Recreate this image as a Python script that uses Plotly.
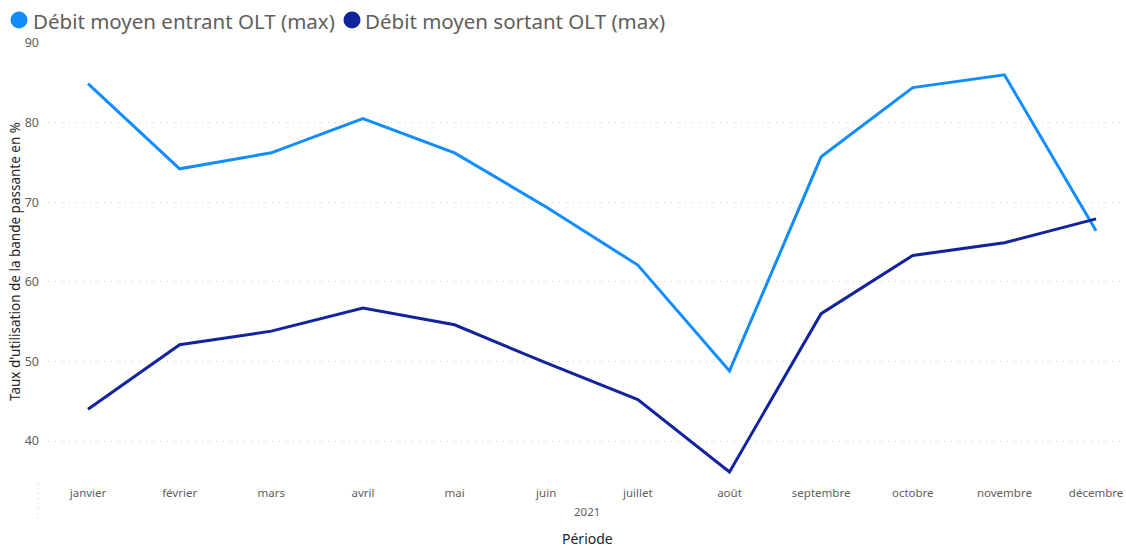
import plotly.graph_objects as go

months = ["janvier", "février", "mars", "avril", "mai", "juin", "juillet",
          "août", "septembre", "octobre", "novembre", "décembre"]
entrant = [84.9, 74.2, 76.2, 80.5, 76.2, 69.4, 62.1, 48.8, 75.7, 84.4, 86.0, 66.4]
sortant = [44.0, 52.1, 53.8, 56.7, 54.6, 49.8, 45.2, 36.1, 56.0, 63.3, 64.9, 67.9]
name_in = "Débit moyen entrant OLT (max)"
name_out = "Débit moyen sortant OLT (max)"
c_in = "#118DFF"
c_out = "#12239E"
yticks = [40, 50, 60, 70, 80, 90]

FONT = "Noto Sans"
xs = list(range(len(months)))

fig = go.Figure()
fig.add_trace(go.Scatter(x=xs, y=entrant, mode="lines", line=dict(color=c_in, width=3),
                         showlegend=False, name=name_in))
fig.add_trace(go.Scatter(x=xs, y=sortant, mode="lines", line=dict(color=c_out, width=3),
                         showlegend=False, name=name_out))

fig.update_layout(
    width=1126, height=550,
    margin=dict(l=48, r=0, t=43, b=70, autoexpand=False),
    paper_bgcolor="white", plot_bgcolor="white",
    font=dict(family=FONT, color="#605E5C", size=11.5),
    showlegend=False,
    xaxis=dict(tickvals=xs, ticktext=months, range=[-0.4365, 11.327],
               showgrid=False, zeroline=False, showline=False, ticks="",
               automargin=False, ticklabelstandoff=4, ticklabeloverflow="allow",
               tickfont=dict(size=11.5, color="#605E5C")),
    yaxis=dict(tickvals=yticks, range=[35.1, 90.0],
               showgrid=True, gridcolor="#C8C8C8", griddash="1px,6px", gridwidth=1,
               zeroline=False, showline=False, ticks="", automargin=False,
               ticklabelstandoff=8,
               tickfont=dict(size=12.5, color="#605E5C"),
               title=dict(text="Taux d'utilisation de la bande passante en %",
                          font=dict(size=13.5, color="#252423"), standoff=0)),
)

# legend row (circle + label), placed above the plot area
circ_y = 1 + (43 - 20) / 437
text_y = 1 + (43 - 21) / 437
for cx, tx, color, label in [(-0.0269, -0.0158, c_in, name_in),
                             (0.2820, 0.2922, c_out, name_out)]:
    fig.add_shape(type="circle", xref="paper", yref="paper",
                  xsizemode="pixel", ysizemode="pixel", xanchor=cx, yanchor=circ_y,
                  x0=-8.5, x1=8.5, y0=-8.5, y1=8.5,
                  fillcolor=color, line=dict(width=0))
    fig.add_annotation(text=label, xref="paper", yref="paper", x=tx, y=text_y,
                       xanchor="left", yanchor="middle", showarrow=False,
                       font=dict(size=20.5, color="#605E5C", family=FONT))

fig.add_annotation(text="2021", xref="paper", yref="paper", x=0.5, y=-0.073,
                   yanchor="middle", showarrow=False,
                   font=dict(size=11.5, color="#605E5C", family=FONT))
fig.add_annotation(text="Période", xref="paper", yref="paper", x=0.5, y=-0.133,
                   yanchor="middle", showarrow=False,
                   font=dict(size=14, color="#252423", family=FONT))
fig.add_shape(type="line", xref="paper", yref="paper", x0=-0.0093, x1=-0.0093,
              y0=-0.007, y1=-0.099, line=dict(color="#C8C8C8", width=1, dash="1px,4px"))

fig.write_html(
    "out.html",
    config={"displayModeBar": False},
    post_script="document.body.style.margin='0';document.body.style.overflow='hidden';",
)
